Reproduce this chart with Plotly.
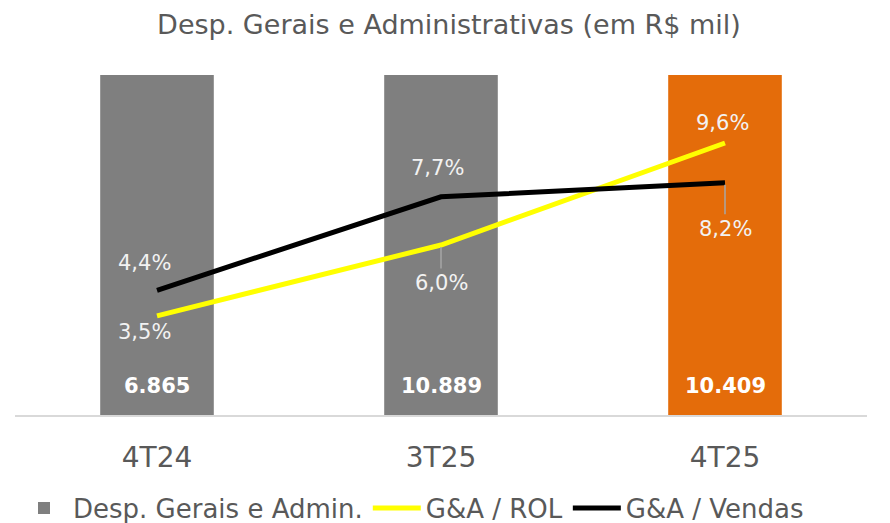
import plotly.graph_objects as go

categories = ["4T24", "3T25", "4T25"]
ga_values = [6865, 10889, 10409]
ga_labels = ["6.865", "10.889", "10.409"]
ga_rol = [3.5, 6.0, 9.6]
ga_vendas = [4.4, 7.7, 8.2]
bar_colors = ["#7f7f7f", "#7f7f7f", "#e46c0a"]

FONT = "DejaVu Sans"
fig = go.Figure()
fig.add_trace(go.Bar(x=categories, y=ga_values, name="Desp. Gerais e Admin.",
                     marker=dict(color=bar_colors, line=dict(width=0)), width=0.4,
                     showlegend=True))
fig.add_trace(go.Scatter(x=categories, y=ga_rol, name="G&A / ROL", mode="lines",
                         line=dict(color="#ffff00", width=5), yaxis="y2"))
fig.add_trace(go.Scatter(x=categories, y=ga_vendas, name="G&A / Vendas", mode="lines",
                         line=dict(color="#000000", width=5), yaxis="y2"))

def pct(v):
    return f"{v:.1f}".replace(".", ",") + "%"

ann = []
for c, t in zip(categories, ga_labels):
    ann.append(dict(x=c, y=0, yref="y", text=f"<b>{t}</b>", showarrow=False,
                    yanchor="bottom", yshift=15, font=dict(family=FONT, size=21, color="white")))
rol_offsets = [16, 38, -20]
rol_leader = [False, True, False]
ven_offsets = [-27, -29, 46]
ven_leader = [False, False, True]
xsh = [-13, -4, -3]
for vals, offs, leads in [(ga_rol, rol_offsets, rol_leader), (ga_vendas, ven_offsets, ven_leader)]:
    for i, (c, v) in enumerate(zip(categories, vals)):
        if leads[i]:
            ann.append(dict(x=c, y=v, yref="y2", text=pct(v), showarrow=True, arrowhead=0,
                            arrowwidth=1.5, arrowcolor="#a6a6a6", ax=0, ay=offs[i],
                            standoff=2, startstandoff=1,
                            font=dict(family=FONT, size=21, color="#f2f2f2")))
        else:
            ann.append(dict(x=c, y=v, yref="y2", text=pct(v), showarrow=False,
                            yshift=-offs[i], xshift=xsh[i],
                            font=dict(family=FONT, size=21, color="#f2f2f2")))

fig.update_layout(
    width=882, height=530,
    margin=dict(l=7, r=23, t=67, b=123),
    paper_bgcolor="white", plot_bgcolor="white",
    title=dict(text="Desp. Gerais e Administrativas (em R$ mil)", x=0.5, xanchor="center",
               y=1 - 17 / 530, yanchor="middle", font=dict(family=FONT, size=27, color="#595959")),
    xaxis=dict(showline=True, linecolor="#d9d9d9", linewidth=2, showgrid=False,
               ticks="", ticklabelstandoff=16,
               tickfont=dict(family=FONT, size=28, color="#595959")),
    yaxis=dict(range=[0, 6000], visible=False, showgrid=False),
    yaxis2=dict(range=[0, 12], overlaying="y", visible=False, showgrid=False),
    legend=dict(orientation="h", x=0, xanchor="left", y=-0.2735, yanchor="middle",
                itemwidth=48,
                font=dict(family=FONT, size=26, color="#595959"), traceorder="normal"),
    annotations=ann, showlegend=True, bargap=0.6,
)
fig.write_html("out.html")
